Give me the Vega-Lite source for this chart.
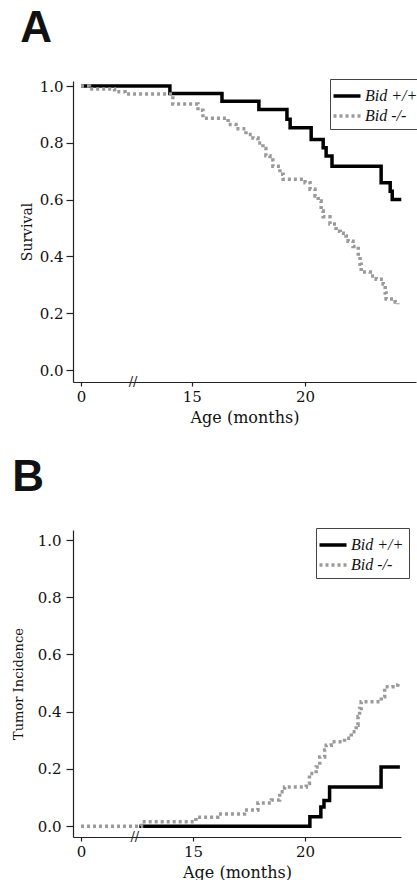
{
  "$schema": "https://vega.github.io/schema/vega-lite/v6.json",
  "padding": {"left": 12, "top": 6, "right": 0, "bottom": 0},
  "background": "white",
  "config": {
    "view": {"stroke": null},
    "axis": {
      "grid": false,
      "domainColor": "#222",
      "domainWidth": 1.2,
      "tickColor": "#222",
      "tickWidth": 1.2,
      "labelFont": "DejaVu Serif",
      "labelFontSize": 15,
      "labelColor": "#111",
      "labelOverlap": false,
      "titleFont": "DejaVu Serif",
      "titleFontWeight": "normal",
      "titleColor": "#111"
    },
    "legend": {
      "strokeColor": "#444",
      "fillColor": "white",
      "padding": 5,
      "offset": 0,
      "symbolType": "M-1.35,0H1.35",
      "symbolSize": 400,
      "symbolStrokeWidth": 3.5,
      "labelFont": "Liberation Serif",
      "labelFontStyle": "italic",
      "labelFontSize": 16,
      "labelColor": "#111",
      "labelOffset": 6,
      "rowPadding": 0,
      "title": null
    },
    "title": {
      "anchor": "start",
      "frame": "bounds",
      "font": "Liberation Sans",
      "fontSize": 44,
      "fontWeight": "bold",
      "color": "#111",
      "offset": 28
    }
  },
  "datasets": {
    "survival": [
      {"genotype": "Bid +/+", "age": 0, "p": 1.0},
      {"genotype": "Bid +/+", "age": 14.03, "p": 0.974},
      {"genotype": "Bid +/+", "age": 16.33, "p": 0.947},
      {"genotype": "Bid +/+", "age": 17.96, "p": 0.918},
      {"genotype": "Bid +/+", "age": 19.2, "p": 0.883},
      {"genotype": "Bid +/+", "age": 19.34, "p": 0.853},
      {"genotype": "Bid +/+", "age": 20.27, "p": 0.812},
      {"genotype": "Bid +/+", "age": 20.8, "p": 0.783},
      {"genotype": "Bid +/+", "age": 20.93, "p": 0.754},
      {"genotype": "Bid +/+", "age": 21.19, "p": 0.718},
      {"genotype": "Bid +/+", "age": 23.36, "p": 0.66},
      {"genotype": "Bid +/+", "age": 23.76, "p": 0.63},
      {"genotype": "Bid +/+", "age": 23.85, "p": 0.601},
      {"genotype": "Bid +/+", "age": 24.25, "p": 0.601},
      {"genotype": "Bid -/-", "age": 0, "p": 1.0},
      {"genotype": "Bid -/-", "age": 2, "p": 0.99},
      {"genotype": "Bid -/-", "age": 8, "p": 0.98},
      {"genotype": "Bid -/-", "age": 10.5, "p": 0.972},
      {"genotype": "Bid -/-", "age": 14.16, "p": 0.937},
      {"genotype": "Bid -/-", "age": 15.27, "p": 0.915},
      {"genotype": "Bid -/-", "age": 15.49, "p": 0.887},
      {"genotype": "Bid -/-", "age": 16.6, "p": 0.865},
      {"genotype": "Bid -/-", "age": 16.95, "p": 0.85},
      {"genotype": "Bid -/-", "age": 17.39, "p": 0.83},
      {"genotype": "Bid -/-", "age": 17.7, "p": 0.817},
      {"genotype": "Bid -/-", "age": 17.92, "p": 0.8},
      {"genotype": "Bid -/-", "age": 18.14, "p": 0.78},
      {"genotype": "Bid -/-", "age": 18.27, "p": 0.755},
      {"genotype": "Bid -/-", "age": 18.45, "p": 0.74},
      {"genotype": "Bid -/-", "age": 18.58, "p": 0.718},
      {"genotype": "Bid -/-", "age": 18.89, "p": 0.69},
      {"genotype": "Bid -/-", "age": 19.03, "p": 0.672},
      {"genotype": "Bid -/-", "age": 20.0, "p": 0.66},
      {"genotype": "Bid -/-", "age": 20.22, "p": 0.637},
      {"genotype": "Bid -/-", "age": 20.44, "p": 0.613},
      {"genotype": "Bid -/-", "age": 20.58, "p": 0.595},
      {"genotype": "Bid -/-", "age": 20.71, "p": 0.56},
      {"genotype": "Bid -/-", "age": 20.8, "p": 0.54},
      {"genotype": "Bid -/-", "age": 21.1, "p": 0.514},
      {"genotype": "Bid -/-", "age": 21.37, "p": 0.489},
      {"genotype": "Bid -/-", "age": 21.55, "p": 0.482},
      {"genotype": "Bid -/-", "age": 21.81, "p": 0.472},
      {"genotype": "Bid -/-", "age": 21.9, "p": 0.454},
      {"genotype": "Bid -/-", "age": 22.12, "p": 0.435},
      {"genotype": "Bid -/-", "age": 22.35, "p": 0.4},
      {"genotype": "Bid -/-", "age": 22.43, "p": 0.373},
      {"genotype": "Bid -/-", "age": 22.48, "p": 0.345},
      {"genotype": "Bid -/-", "age": 22.88, "p": 0.331},
      {"genotype": "Bid -/-", "age": 23.14, "p": 0.32},
      {"genotype": "Bid -/-", "age": 23.45, "p": 0.303},
      {"genotype": "Bid -/-", "age": 23.54, "p": 0.271},
      {"genotype": "Bid -/-", "age": 23.58, "p": 0.25},
      {"genotype": "Bid -/-", "age": 23.98, "p": 0.24},
      {"genotype": "Bid -/-", "age": 24.1, "p": 0.232}
    ],
    "tumor": [
      {"genotype": "Bid +/+", "age": 12.6, "p": 0},
      {"genotype": "Bid +/+", "age": 20.22, "p": 0.033},
      {"genotype": "Bid +/+", "age": 20.71, "p": 0.067},
      {"genotype": "Bid +/+", "age": 20.85, "p": 0.09},
      {"genotype": "Bid +/+", "age": 21.1, "p": 0.137},
      {"genotype": "Bid +/+", "age": 23.4, "p": 0.207},
      {"genotype": "Bid +/+", "age": 24.24, "p": 0.207},
      {"genotype": "Bid -/-", "age": 0, "p": 0},
      {"genotype": "Bid -/-", "age": 12.7, "p": 0.015},
      {"genotype": "Bid -/-", "age": 15.13, "p": 0.031},
      {"genotype": "Bid -/-", "age": 16.1, "p": 0.042},
      {"genotype": "Bid -/-", "age": 17.3, "p": 0.056},
      {"genotype": "Bid -/-", "age": 17.9, "p": 0.081},
      {"genotype": "Bid -/-", "age": 18.5, "p": 0.091},
      {"genotype": "Bid -/-", "age": 18.87, "p": 0.12},
      {"genotype": "Bid -/-", "age": 19.09, "p": 0.137},
      {"genotype": "Bid -/-", "age": 20.06, "p": 0.149},
      {"genotype": "Bid -/-", "age": 20.2, "p": 0.184},
      {"genotype": "Bid -/-", "age": 20.5, "p": 0.207},
      {"genotype": "Bid -/-", "age": 20.66, "p": 0.242},
      {"genotype": "Bid -/-", "age": 20.88, "p": 0.266},
      {"genotype": "Bid -/-", "age": 20.95, "p": 0.283},
      {"genotype": "Bid -/-", "age": 21.17, "p": 0.295},
      {"genotype": "Bid -/-", "age": 21.77, "p": 0.307},
      {"genotype": "Bid -/-", "age": 22.07, "p": 0.33},
      {"genotype": "Bid -/-", "age": 22.29, "p": 0.353},
      {"genotype": "Bid -/-", "age": 22.37, "p": 0.382},
      {"genotype": "Bid -/-", "age": 22.44, "p": 0.411},
      {"genotype": "Bid -/-", "age": 22.51, "p": 0.435},
      {"genotype": "Bid -/-", "age": 23.41, "p": 0.452},
      {"genotype": "Bid -/-", "age": 23.56, "p": 0.487},
      {"genotype": "Bid -/-", "age": 23.93, "p": 0.493},
      {"genotype": "Bid -/-", "age": 24.15, "p": 0.505}
    ]
  },
  "concat": [
    {
      "width": 343,
      "height": 301,
      "title": {"text": "A"},
      "layer": [
        {
          "data": {"name": "survival"},
          "mark": {"type": "line", "interpolate": "step-after", "strokeWidth": 3.5, "strokeCap": "butt"},
          "encoding": {
            "x": {"field": "age", "type": "quantitative",
              "scale": {"domain": [-1.91, 12.4, 24.9], "range": [0, 60, 343], "nice": false, "zero": false},
              "axis": {"values": [0, 15, 20], "format": "d", "title": "Age (months)", "titleFontSize": 16, "tickSize": 4, "labelPadding": 3, "titlePadding": 5}},
            "y": {"field": "p", "type": "quantitative",
              "scale": {"domain": [-0.042, 1.018], "nice": false, "zero": false},
              "axis": {"values": [0, 0.2, 0.4, 0.6, 0.8, 1.0], "format": ".1f", "title": "Survival", "titleFontSize": 14, "tickSize": 7, "labelPadding": 3, "titlePadding": 5}},
            "color": {"field": "genotype", "type": "nominal",
              "scale": {"domain": ["Bid +/+", "Bid -/-"], "range": ["#000000", "#9a9a9a"]},
              "legend": {"orient": "none", "legendX": 257, "legendY": -2}},
            "strokeDash": {"field": "genotype", "type": "nominal",
              "scale": {"domain": ["Bid +/+", "Bid -/-"], "range": [[1, 0], [3, 3]]},
              "legend": {"orient": "none", "legendX": 257, "legendY": -2}}
          }
        },
        {
          "data": {"values": [{}]},
          "mark": {"type": "text", "text": "//", "font": "DejaVu Serif", "fontSize": 13, "align": "center", "baseline": "middle", "color": "#222"},
          "encoding": {
            "x": {"datum": 12.4, "type": "quantitative"},
            "y": {"datum": -0.042, "type": "quantitative"}
          }
        }
      ]
    },
    {
      "width": 328,
      "height": 307,
      "title": {"text": "B"},
      "layer": [
        {
          "data": {"name": "tumor"},
          "mark": {"type": "line", "interpolate": "step-after", "strokeWidth": 3.5, "strokeCap": "butt"},
          "encoding": {
            "x": {"field": "age", "type": "quantitative",
              "scale": {"domain": [-1.84, 12.4, 24.29], "range": [0, 61.8, 328], "nice": false, "zero": false},
              "axis": {"values": [0, 15, 20], "format": "d", "title": "Age (months)", "titleFontSize": 16, "tickSize": 4, "labelPadding": 3, "titlePadding": 5}},
            "y": {"field": "p", "type": "quantitative",
              "scale": {"domain": [-0.038, 1.035], "nice": false, "zero": false},
              "axis": {"values": [0, 0.2, 0.4, 0.6, 0.8, 1.0], "format": ".1f", "title": "Tumor Incidence", "titleFontSize": 13, "tickSize": 7, "labelPadding": 5, "titlePadding": 12}},
            "color": {"field": "genotype", "type": "nominal",
              "scale": {"domain": ["Bid +/+", "Bid -/-"], "range": ["#000000", "#9a9a9a"]},
              "legend": {"orient": "none", "legendX": 243, "legendY": -2}},
            "strokeDash": {"field": "genotype", "type": "nominal",
              "scale": {"domain": ["Bid +/+", "Bid -/-"], "range": [[1, 0], [3, 3]]},
              "legend": {"orient": "none", "legendX": 243, "legendY": -2}}
          }
        },
        {
          "data": {"values": [{}]},
          "mark": {"type": "text", "text": "//", "font": "DejaVu Serif", "fontSize": 13, "align": "center", "baseline": "middle", "color": "#222"},
          "encoding": {
            "x": {"datum": 12.4, "type": "quantitative"},
            "y": {"datum": -0.038, "type": "quantitative"}
          }
        }
      ]
    }
  ],
  "columns": 1,
  "align": "none",
  "spacing": 30,
  "resolve": {"scale": {"x": "independent", "y": "independent", "color": "independent", "strokeDash": "independent"}}
}
